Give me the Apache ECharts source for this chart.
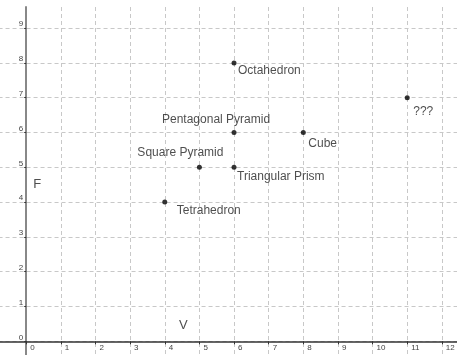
<!DOCTYPE html>
<html><head><meta charset="utf-8">
<script src="https://cdn.jsdelivr.net/npm/echarts@6/dist/echarts.min.js"></script>
<style>html,body{margin:0;padding:0;background:#fff}#c{width:457px;height:355px}</style>
</head><body><div id="c"></div>
<script>
// Data: polyhedra, vertices (V) vs faces (F)
const names = ['Tetrahedron', 'Square Pyramid', 'Triangular Prism', 'Pentagonal Pyramid', 'Cube', 'Octahedron', '???'];
const vertices = [4, 5, 6, 6, 8, 6, 11];
const faces = [4, 5, 5, 6, 6, 8, 7];
const axisNames = ['V', 'F'];
const axisNamePos = [[4.54, 0.47], [0.32, 4.5]];

// Label styling (offsets in pixels from each dot)
const labelStyle = {
  'Tetrahedron': {align: 'left', offset: [12, 9]},
  'Square Pyramid': {align: 'center', offset: [-19, -15]},
  'Triangular Prism': {align: 'left', offset: [3, 9]},
  'Pentagonal Pyramid': {align: 'center', offset: [-18, -13]},
  'Cube': {align: 'left', offset: [5, 11]},
  'Octahedron': {align: 'left', offset: [4, 8]},
  '???': {align: 'left', offset: [6, 14]}
};

const chart = echarts.init(document.getElementById('c'), null, {renderer: 'canvas'});
const hideOut = (lo, hi) => v => (v < lo || v > hi || Math.round(v) !== v) ? '' : String(v);
const split = {show: true, showMaxLine: false, lineStyle: {color: '#c8c8c8', type: [4, 3], width: 1}};
const font = 'Liberation Sans';

chart.setOption({
  animation: false,
  grid: [
    // main grid: origin at the axes crossing
    {left: 26.2, bottom: 13.7, right: -19.5, top: -6.7, outerBoundsMode: 'none', containLabel: false},
    // background grid: dashed grid lines and axis lines over the whole view
    {left: -8.44, bottom: -21.1, right: -19.5, top: 7, outerBoundsMode: 'none', containLabel: false}
  ],
  xAxis: [
    {
      gridIndex: 0, type: 'value', min: 0, max: 13, interval: 1,
      axisLine: {show: false},
      axisTick: {show: true, length: 3, lineStyle: {color: '#333'}},
      axisLabel: {fontSize: 8, color: '#444', align: 'left', margin: 2, padding: [0, 0, 0, 4],
        fontFamily: font, formatter: hideOut(0, 12)},
      splitLine: {show: false}
    },
    {
      gridIndex: 1, type: 'value', min: -1, max: 13, interval: 1,
      axisLine: {onZero: true, lineStyle: {color: '#333', width: 1.5}},
      axisTick: {show: false}, axisLabel: {show: false},
      splitLine: split
    }
  ],
  yAxis: [
    {
      gridIndex: 0, type: 'value', min: 0, max: 10, interval: 1,
      axisLine: {show: false},
      axisTick: {show: true, length: 2, lineStyle: {color: '#333'}},
      axisLabel: {fontSize: 8, color: '#444', verticalAlign: 'bottom', margin: 3,
        fontFamily: font, formatter: hideOut(0, 9)},
      splitLine: {show: false}
    },
    {
      gridIndex: 1, type: 'value', min: -1, max: 9.606, interval: 1,
      axisLine: {onZero: true, lineStyle: {color: '#888', width: 2}},
      axisTick: {show: false}, axisLabel: {show: false},
      splitLine: split
    }
  ],
  series: [
    {
      type: 'scatter', xAxisIndex: 0, yAxisIndex: 0,
      symbolSize: 5, z: 5,
      itemStyle: {color: '#000'},
      data: names.map((n, i) => ({
        name: n, value: [vertices[i], faces[i]],
        label: Object.assign({show: true, position: 'inside', verticalAlign: 'middle',
          formatter: '{b}', fontSize: 12, color: '#222', fontFamily: font}, labelStyle[n])
      }))
    },
    {
      type: 'scatter', xAxisIndex: 0, yAxisIndex: 0,
      symbolSize: 0, silent: true,
      data: axisNames.map((n, i) => ({
        name: n, value: axisNamePos[i],
        label: {show: true, position: 'inside', formatter: '{b}', fontSize: 13,
          color: '#222', fontFamily: font}
      }))
    }
  ]
});
</script></body></html>
